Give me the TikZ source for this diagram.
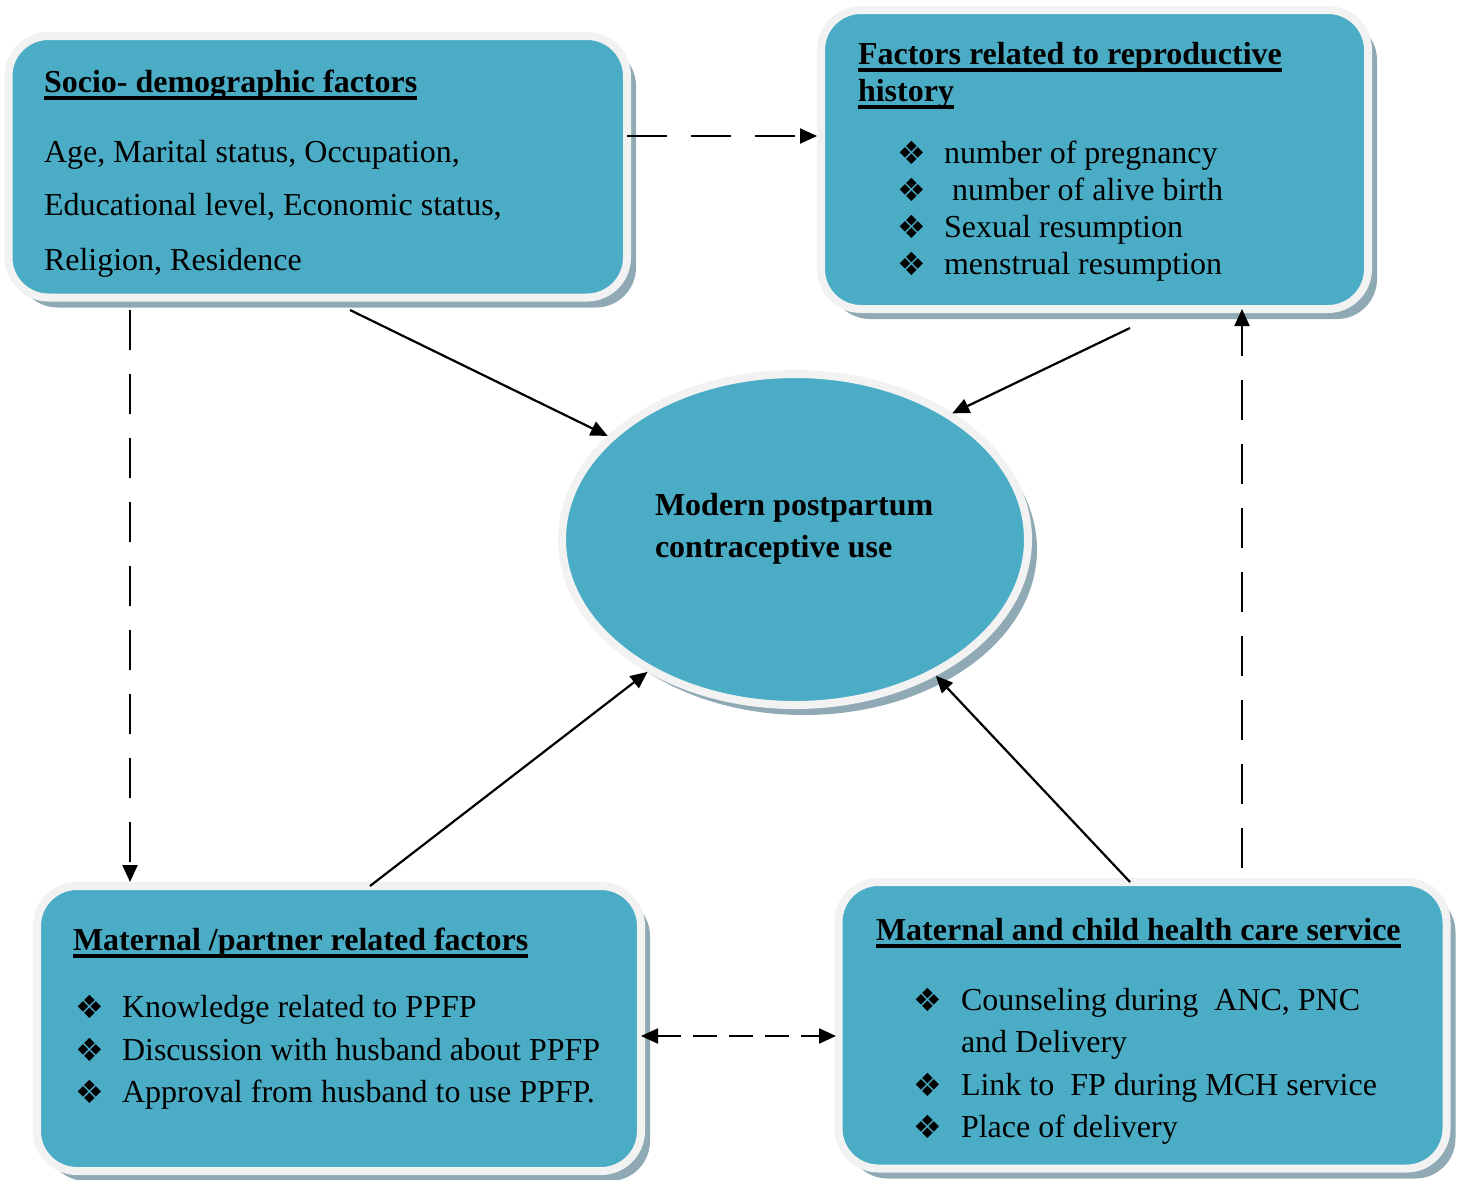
\documentclass[tikz,border=0pt]{standalone}
\usepackage{fontspec}
\setmainfont{Liberation Serif}
\newfontfamily\dvfont{DejaVu Sans}
\usetikzlibrary{arrows.meta,shadows,calc,shapes.geometric}
\definecolor{boxfill}{HTML}{4BACC6}
\definecolor{boxedge}{HTML}{F2F2F2}
\definecolor{boxshade}{HTML}{8FAAB4}
\newcommand\hdul[1]{\setbox0=\hbox{\bfseries #1}\rlap{\rule[-7.5pt]{\wd0}{3.6pt}}\box0}
\newcommand\bitem[2]{\makebox[#1][l]{\raisebox{-1pt}{\dvfont\fontsize{32}{32}\selectfont ❖}}#2}
\begin{document}
\begin{tikzpicture}[x=1pt,y=-1pt,font=\fontsize{32}{38}\selectfont,
  shade/.style={drop shadow={shadow xshift=9pt, shadow yshift=-10pt, fill=boxshade, opacity=1}},
  box/.style={rectangle, rounded corners=40pt, draw=boxedge, line width=8pt, fill=boxfill, inner sep=0pt, outer sep=0pt, shade},
  ellbox/.style={ellipse, draw=boxedge, line width=8pt, fill=boxfill, inner sep=0pt, outer sep=0pt, shade},
  txt/.style={anchor=base west, inner sep=0pt, outer sep=0pt},
  arr/.style={line width=2.2pt, -{Triangle[length=17pt,width=15pt]}},
  dsh/.style={arr, dash pattern=on 40pt off 24pt},
  dshort/.style={line width=2.2pt, {Triangle[length=17pt,width=15pt]}-{Triangle[length=17pt,width=15pt]}, dash pattern=on 24pt off 12pt}]
\useasboundingbox (0,0) rectangle (1457,1179);
% boxes
\node[box, minimum width=618.5pt, minimum height=261.5pt] (b1) at (317.75,166.75) {};
\node[box, minimum width=547pt, minimum height=299pt] (b2) at (1094.5,159.5) {};
\node[box, minimum width=604pt, minimum height=285pt] (b3) at (339,1028.5) {};
\node[box, minimum width=608pt, minimum height=286.5pt] (b4) at (1142.5,1025.25) {};
\node[ellbox, minimum width=466pt, minimum height=331pt] (ell) at (795,539.5) {};
% box 1 text
\node[txt] (h1) at (44,92) {\hdul{Socio- demographic factors}};
\node[txt] (s1) at (44,162) {Age, Marital status, Occupation,};
\node[txt] (s2) at (44,215.5) {Educational level, Economic status,};
\node[txt] (s3) at (44,270) {Religion, Residence};
% box 2 text
\node[txt] (h2a) at (858,64.5) {\hdul{Factors related to reproductive}};
\node[txt] (h2b) at (858,101.5) {\hdul{history}};
\node[txt] (r1) at (897,163) {\bitem{47pt}{number of pregnancy}};
\node[txt] (r2) at (897,200) {\bitem{55pt}{number of alive birth}};
\node[txt] (r3) at (897,237) {\bitem{47pt}{Sexual resumption}};
\node[txt] (r4) at (897,274.5) {\bitem{47pt}{menstrual resumption}};
% ellipse text
\node[txt] (e1) at (655,515) {\bfseries Modern postpartum};
\node[txt] (e2) at (655,557) {\bfseries contraceptive use};
% box 3 text
\node[txt] (h3) at (73,950) {\hdul{Maternal /partner related factors}};
\node[txt] (m1) at (75,1017) {\bitem{47pt}{Knowledge related to PPFP}};
\node[txt] (m2) at (75,1060) {\bitem{47pt}{Discussion with husband about PPFP}};
\node[txt] (m3) at (75,1102) {\bitem{47pt}{Approval from husband to use PPFP.}};
% box 4 text
\node[txt] (h4) at (876,940) {\hdul{Maternal and child health care service}};
\node[txt] (c1) at (913,1010) {\bitem{48pt}{Counseling during \ ANC, PNC}};
\node[txt] (c2) at (961,1052) {and Delivery};
\node[txt] (c3) at (913,1095) {\bitem{48pt}{Link to \ FP during MCH service}};
\node[txt] (c4) at (913,1137) {\bitem{48pt}{Place of delivery}};
% connectors
\draw[dsh, shorten >=4pt] (b1.east |- 0,136) -- (b2.west |- 0,136);
\draw[dsh, shorten >=4pt] ($(b1.south -| 130,0)+(0,12.5)$) -- (b3.north -| 130,0);
\draw[arr, shorten >=4pt] ($(b1.south -| 350,0)+(0,12.5)$) -- (ell.151.7);
\draw[arr, shorten >=4pt] ($(b2.south -| 1130,0)+(0,19)$) -- (ell.39.5);
\draw[dsh] ($(b4.north -| 1242,0)+(0,-14)$) -- (b2.south -| 1242,0);
\draw[arr, shorten >=4pt] (b3.north -| 370,0) -- (ell.222.8);
\draw[arr, shorten >=4pt] (b4.north -| 1130,0) -- (ell.316.3);
\draw[dshort, shorten >=2.5pt] (b3.east |- 0,1036) -- (b4.west |- 0,1036);
\end{tikzpicture}
\end{document}
